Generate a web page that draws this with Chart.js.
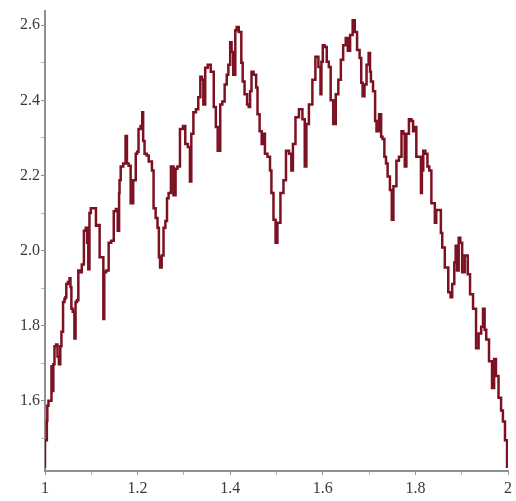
<!DOCTYPE html>
<html>
<head>
<meta charset="utf-8">
<script src="https://cdn.jsdelivr.net/npm/chart.js@4/dist/chart.umd.min.js"></script>
<style>
  html, body { margin: 0; padding: 0; background: #fff; }
</style>
</head>
<body>
<canvas id="myChart" width="516" height="501"></canvas>
<script>
// curve, x from 1 to 2
const xs = [
  1.000, 1.000, 1.004, 1.004, 1.006, 1.009, 1.013, 1.015, 1.017, 1.019,
  1.022, 1.026, 1.028, 1.032, 1.034, 1.037, 1.041, 1.043, 1.045, 1.047,
  1.052, 1.054, 1.056, 1.058, 1.062, 1.065, 1.067, 1.071, 1.073, 1.077,
  1.082, 1.086, 1.090, 1.092, 1.095, 1.097, 1.101, 1.108, 1.112, 1.116,
  1.120, 1.125, 1.127, 1.129, 1.135, 1.140, 1.146, 1.151, 1.155, 1.159,
  1.161, 1.161, 1.166, 1.172, 1.176, 1.178, 1.183, 1.187, 1.194, 1.198,
  1.200, 1.204, 1.209, 1.211, 1.213, 1.217, 1.222, 1.226, 1.230, 1.232,
  1.237, 1.241, 1.245, 1.247, 1.250, 1.254, 1.258, 1.262, 1.265, 1.269,
  1.275, 1.280, 1.284, 1.288, 1.295, 1.301, 1.305, 1.312, 1.314, 1.318,
  1.323, 1.329, 1.333, 1.338, 1.340, 1.344, 1.348, 1.355, 1.361, 1.368,
  1.370, 1.376, 1.381, 1.385, 1.391, 1.394, 1.398, 1.402, 1.404, 1.409,
  1.413, 1.415, 1.422, 1.426, 1.428, 1.434, 1.439, 1.441, 1.445, 1.447,
  1.454, 1.458, 1.460, 1.467, 1.469, 1.473, 1.477, 1.484, 1.488, 1.490,
  1.497, 1.499, 1.505, 1.512, 1.518, 1.523, 1.531, 1.533, 1.538, 1.544,
  1.553, 1.559, 1.563, 1.566, 1.574, 1.581, 1.587, 1.594, 1.596, 1.598,
  1.602, 1.606, 1.611, 1.615, 1.619, 1.626, 1.630, 1.637, 1.641, 1.647,
  1.652, 1.656, 1.662, 1.667, 1.671, 1.677, 1.682, 1.684, 1.688, 1.692,
  1.697, 1.701, 1.703, 1.705, 1.712, 1.714, 1.718, 1.725, 1.727, 1.731,
  1.735, 1.738, 1.742, 1.748, 1.750, 1.755, 1.757, 1.761, 1.768, 1.772,
  1.776, 1.778, 1.783, 1.789, 1.794, 1.796, 1.800, 1.804, 1.811, 1.813,
  1.815, 1.819, 1.824, 1.828, 1.832, 1.837, 1.841, 1.843, 1.847, 1.854,
  1.856, 1.860, 1.867, 1.875, 1.877, 1.882, 1.886, 1.888, 1.892, 1.895,
  1.899, 1.903, 1.910, 1.916, 1.920, 1.929, 1.933, 1.940, 1.944, 1.948,
  1.951, 1.955, 1.963, 1.968, 1.972, 1.976, 1.983, 1.987, 1.991, 1.996,
  2.000
];
const ys = [
  1.421, 1.495, 1.495, 1.547, 1.587, 1.600, 1.600, 1.692, 1.626, 1.697,
  1.745, 1.750, 1.718, 1.697, 1.745, 1.784, 1.863, 1.871, 1.876, 1.911,
  1.916, 1.926, 1.903, 1.845, 1.837, 1.766, 1.863, 1.868, 1.947, 1.942,
  1.963, 2.053, 2.061, 2.021, 1.950, 2.100, 2.113, 2.113, 2.066, 2.068,
  1.982, 1.982, 1.818, 1.942, 1.947, 2.021, 2.026, 2.105, 2.111, 2.053,
  2.153, 2.187, 2.224, 2.232, 2.305, 2.232, 2.226, 2.126, 2.187, 2.258,
  2.263, 2.324, 2.332, 2.368, 2.292, 2.258, 2.253, 2.237, 2.237, 2.213,
  2.113, 2.087, 2.061, 1.982, 1.955, 1.987, 2.061, 2.079, 2.139, 2.153,
  2.224, 2.147, 2.218, 2.224, 2.324, 2.332, 2.284, 2.276, 2.184, 2.311,
  2.368, 2.376, 2.408, 2.463, 2.455, 2.389, 2.487, 2.495, 2.476, 2.382,
  2.329, 2.266, 2.389, 2.397, 2.442, 2.468, 2.495, 2.555, 2.529, 2.468,
  2.587, 2.595, 2.582, 2.500, 2.450, 2.416, 2.389, 2.382, 2.424, 2.476,
  2.468, 2.434, 2.363, 2.318, 2.284, 2.311, 2.258, 2.250, 2.213, 2.153,
  2.082, 2.021, 2.074, 2.153, 2.187, 2.266, 2.258, 2.213, 2.284, 2.355,
  2.376, 2.350, 2.224, 2.337, 2.389, 2.455, 2.516, 2.489, 2.416, 2.503,
  2.547, 2.542, 2.503, 2.489, 2.400, 2.337, 2.416, 2.455, 2.508, 2.547,
  2.566, 2.532, 2.574, 2.613, 2.582, 2.534, 2.513, 2.447, 2.411, 2.442,
  2.495, 2.526, 2.476, 2.450, 2.424, 2.345, 2.318, 2.363, 2.303, 2.297,
  2.250, 2.232, 2.197, 2.161, 2.082, 2.171, 2.171, 2.239, 2.250, 2.318,
  2.311, 2.224, 2.311, 2.350, 2.345, 2.318, 2.329, 2.250, 2.250, 2.153,
  2.213, 2.266, 2.258, 2.224, 2.213, 2.126, 2.126, 2.074, 2.108, 2.108,
  2.047, 2.008, 1.955, 1.889, 1.876, 1.911, 1.968, 2.013, 1.947, 2.034,
  2.021, 1.942, 1.987, 1.937, 1.884, 1.845, 1.740, 1.779, 1.797, 1.845,
  1.789, 1.763, 1.705, 1.634, 1.711, 1.666, 1.608, 1.574, 1.545, 1.495,
  1.424
];

const xTicks = [1, 1.1, 1.2, 1.3, 1.4, 1.5, 1.6, 1.7, 1.8, 1.9, 2];
const xLabels = ["1", "", "1.2", "", "1.4", "", "1.6", "", "1.8", "", "2"];
const yTicks = [1.5, 1.6, 1.7, 1.8, 1.9, 2.0, 2.1, 2.2, 2.3, 2.4, 2.5, 2.6];
const yLabels = ["", "1.6", "", "1.8", "", "2.0", "", "2.2", "", "2.4", "", "2.6"];

const points = xs.map((x, i) => ({ x: x, y: ys[i] }));

const axisColor = "#8f8f8f";
const labelFont = { family: "'Liberation Serif', 'DejaVu Serif', serif", size: 16 };

const ctx = document.getElementById("myChart");
const myChart = new Chart(ctx, {
  type: "line",
  data: {
    datasets: [
      {
        data: points,
        borderColor: "#7c1122",
        borderWidth: 2.5,
        pointRadius: 0,
        stepped: "middle",
        fill: false,
      },
    ],
  },
  options: {
    responsive: false,
    animation: false,
    layout: { padding: { top: 5, right: 6, left: 0, bottom: 0 } },
    plugins: {
      legend: { display: false },
      tooltip: { enabled: false },
    },
    scales: {
      x: {
        type: "linear",
        min: 1,
        max: 2,
        afterBuildTicks: (scale) => {
          scale.ticks = xTicks.map((v) => ({ value: v }));
        },
        afterFit: (scale) => {
          scale.height = 30;
        },
        ticks: {
          autoSkip: false,
          maxRotation: 0,
          padding: 4,
          color: "#3a3a3a",
          font: labelFont,
          callback: (v, i) => xLabels[i],
        },
        grid: {
          drawOnChartArea: false,
          drawTicks: true,
          tickLength: 4,
          tickColor: (c) => (c.index % 2 === 0 ? axisColor : "#b5b5b5"),
        },
        border: { color: axisColor, width: 2 },
      },
      y: {
        type: "linear",
        min: 1.413,
        max: 2.639,
        afterBuildTicks: (scale) => {
          scale.ticks = yTicks.map((v) => ({ value: v }));
        },
        afterFit: (scale) => {
          scale.width = 45;
        },
        ticks: {
          autoSkip: false,
          padding: 1,
          color: "#3a3a3a",
          font: labelFont,
          callback: (v, i) => yLabels[i],
        },
        grid: {
          drawOnChartArea: false,
          drawTicks: true,
          tickLength: 4,
          tickColor: (c) => (c.index % 2 === 1 ? axisColor : "#b5b5b5"),
        },
        border: { color: axisColor, width: 2 },
      },
    },
  },
});
</script>
</body>
</html>
